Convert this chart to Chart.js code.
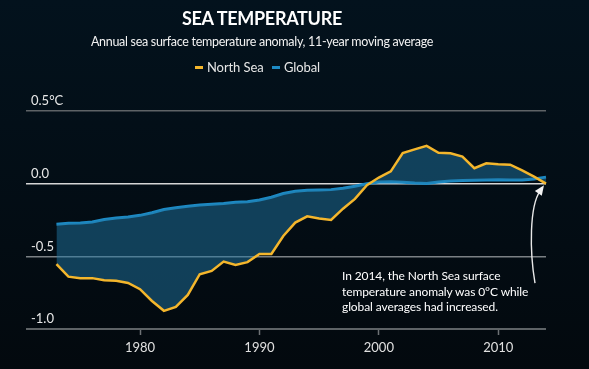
<!DOCTYPE html>
<html>
<head>
<meta charset="utf-8">
<script src="https://cdn.jsdelivr.net/npm/chart.js@4/dist/chart.umd.min.js"></script>
<style>
  html, body { margin:0; padding:0; }
  body { width:589px; height:369px; overflow:hidden; background:linear-gradient(#03121d, #03090e); font-family: Lato, "Open Sans", sans-serif; }
  #wrap { position:relative; width:589px; height:369px; }
  canvas { position:absolute; left:0; top:0; }
  .t { position:absolute; white-space:nowrap; color:#fff; }
  #title { left:0; width:524px; top:7px; text-align:center; font-weight:700; font-size:18px; letter-spacing:-0.3px; }
  #sub { left:0; width:524px; top:34px; text-align:center; font-size:12.5px; letter-spacing:-0.3px; color:#f2f2f2; }
  .lg { position:absolute; top:59px; font-size:13px; letter-spacing:-0.1px; color:#e6e6e6; white-space:nowrap; }
  .mk { position:absolute; top:66px; width:7.5px; height:3px; }
  #note { left:342px; top:268px; font-size:12px; letter-spacing:-0.1px; line-height:15.7px; color:#fff; }
</style>
</head>
<body>
<div id="wrap">
  <canvas id="c" width="589" height="369"></canvas>
  <div class="t" id="title">SEA TEMPERATURE</div>
  <div class="t" id="sub">Annual sea surface temperature anomaly, 11-year moving average</div>
  <div class="mk" style="left:195px;background:#f4b62c"></div>
  <div class="lg" style="left:207px">North Sea</div>
  <div class="mk" style="left:272px;background:#1d8ac4"></div>
  <div class="lg" style="left:284px">Global</div>
  <div class="t" id="note">In 2014, the North Sea surface<br>temperature anomaly was 0°C while<br>global averages had increased.</div>
</div>
<script>
const years = [1973,1974,1975,1976,1977,1978,1979,1980,1981,1982,1983,1984,1985,1986,1987,1988,1989,1990,1991,1992,1993,1994,1995,1996,1997,1998,1999,2000,2001,2002,2003,2004,2005,2006,2007,2008,2009,2010,2011,2012,2013,2014];
const northSea = [-0.554,-0.64,-0.65,-0.65,-0.665,-0.668,-0.683,-0.726,-0.807,-0.875,-0.848,-0.766,-0.623,-0.60,-0.536,-0.559,-0.54,-0.484,-0.484,-0.36,-0.268,-0.225,-0.24,-0.25,-0.172,-0.105,-0.01,0.042,0.085,0.21,0.236,0.26,0.212,0.209,0.186,0.106,0.14,0.134,0.131,0.092,0.048,0.0];
const global = [-0.28,-0.273,-0.27,-0.263,-0.247,-0.236,-0.23,-0.218,-0.20,-0.178,-0.166,-0.155,-0.147,-0.141,-0.136,-0.128,-0.125,-0.112,-0.093,-0.068,-0.052,-0.046,-0.044,-0.041,-0.032,-0.018,0.0,0.012,0.014,0.01,0.004,0.002,0.012,0.018,0.021,0.023,0.026,0.027,0.026,0.026,0.032,0.045];
const xTicks = [1980,1990,2000,2010];
const yTicks = [0.5,0,-0.5,-1.0];
const yTickLabels = ['0.5°C','0.0','-0.5','-1.0'];

const arrowPlugin = {
  id: 'arrow',
  afterDatasetsDraw(chart) {
    const {ctx, scales} = chart;
    const last = years.length - 1;
    const tx = scales.x.getPixelForValue(years[last]) - 2;
    const ty = scales.y.getPixelForValue(northSea[last]) + 1.5;
    const sx = tx - 9, sy = ty + 98;
    const c1x = tx - 14.5, c1y = ty + 66;
    const c2x = tx - 14.5, c2y = ty + 21;
    ctx.save();
    ctx.strokeStyle = '#e8e8e8';
    ctx.fillStyle = '#f2f2f2';
    ctx.lineWidth = 1.4;
    ctx.beginPath();
    ctx.moveTo(sx, sy);
    ctx.bezierCurveTo(c1x, c1y, c2x, c2y, tx - 4, ty + 6);
    ctx.stroke();
    const ang = Math.atan2(ty - c2y, tx - c2x);
    const L = 10, W = 4.2;
    ctx.beginPath();
    ctx.moveTo(tx, ty);
    ctx.lineTo(tx - L*Math.cos(ang) + W*Math.sin(ang), ty - L*Math.sin(ang) - W*Math.cos(ang));
    ctx.lineTo(tx - L*Math.cos(ang) - W*Math.sin(ang), ty - L*Math.sin(ang) + W*Math.cos(ang));
    ctx.closePath();
    ctx.fill();
    ctx.restore();
  }
};

new Chart(document.getElementById('c'), {
  type: 'line',
  data: {
    datasets: [
      {
        label: 'North Sea',
        data: years.map((y,i) => ({x:y, y:northSea[i]})),
        borderColor: '#f4b62c',
        borderWidth: 2.5,
        pointRadius: 0,
        tension: 0,
        fill: '+1',
        backgroundColor: 'rgba(33,122,168,0.48)',
        clip: false
      },
      {
        label: 'Global',
        data: years.map((y,i) => ({x:y, y:global[i]})),
        borderColor: '#1d8ac4',
        borderWidth: 3,
        pointRadius: 0,
        tension: 0,
        fill: false,
        clip: false
      }
    ]
  },
  options: {
    responsive: false,
    animation: false,
    devicePixelRatio: 1,
    layout: { padding: { left: 26, right: 43, top: 111, bottom: 0 } },
    plugins: { legend: { display: false }, title: { display: false }, tooltip: { enabled: false } },
    scales: {
      x: {
        type: 'linear',
        min: 1970.45,
        max: 2014,
        afterBuildTicks: (s) => { s.ticks = xTicks.map(v => ({value: v})); },
        afterFit: (s) => { s.height = 40; },
        grid: { drawOnChartArea: false, drawTicks: true, tickLength: 6, tickColor: '#6e7275', tickWidth: 1.5 },
        border: { display: false },
        ticks: { color: '#e0e0e0', font: { family: 'Lato', size: 13 }, padding: 5, maxRotation: 0, callback: (v) => String(v) }
      },
      y: {
        min: -1.0,
        max: 0.5,
        afterBuildTicks: (s) => { s.ticks = yTicks.map(v => ({value: v})); },
        afterFit: (s) => { s.width = 0; },
        grid: {
          drawTicks: false,
          color: (c) => c.tick && c.tick.value === 0 ? '#d6d6d6' : (c.tick && c.tick.value === -0.5 ? '#7b8084' : '#5e6366'),
          lineWidth: (c) => c.tick && c.tick.value === -1 ? 2 : 1.5
        },
        border: { display: false },
        ticks: {
          mirror: true,
          padding: 5,
          labelOffset: -10,
          color: '#e8e8e8',
          font: { family: 'Lato', size: 13 },
          callback: (v) => { const i = yTicks.indexOf(v); return i >= 0 ? yTickLabels[i] : ''; }
        }
      }
    }
  },
  plugins: [arrowPlugin]
});
</script>
</body>
</html>
